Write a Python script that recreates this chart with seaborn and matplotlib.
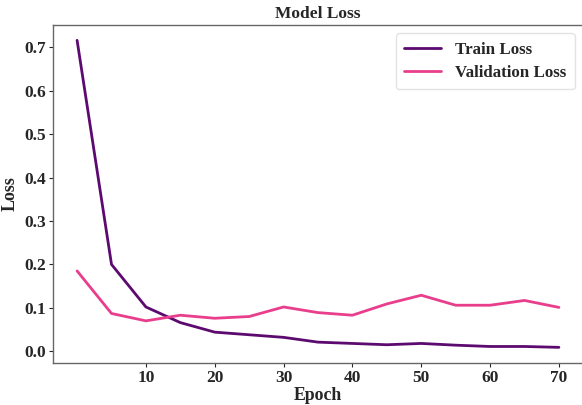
"""Model loss curves: training vs validation loss per epoch."""

import matplotlib

matplotlib.use("Agg")

import matplotlib.pyplot as plt
import pandas as pd
import seaborn as sns

epochs = [0, 5, 10, 15, 20, 25, 30, 35, 40, 45, 50, 55, 60, 65, 70]
train_loss = [0.716, 0.200, 0.102, 0.066, 0.044, 0.038, 0.032, 0.021, 0.018,
              0.015, 0.018, 0.014, 0.011, 0.011, 0.009]
val_loss = [0.185, 0.087, 0.070, 0.083, 0.076, 0.080, 0.102, 0.089, 0.083,
            0.109, 0.129, 0.106, 0.106, 0.117, 0.101]
xticks = [10, 20, 30, 40, 50, 60, 70]

TRAIN_COLOR = "#5c0a6f"
VAL_COLOR = "#e83e8c"

sns.set_theme(style="ticks")
plt.rcParams["font.family"] = ["Liberation Serif", "DejaVu Serif"]
plt.rcParams["font.weight"] = "bold"

frame = pd.DataFrame({
    "Epoch": epochs * 2,
    "Loss": train_loss + val_loss,
    "Series": ["Train Loss"] * len(epochs) + ["Validation Loss"] * len(epochs),
})

fig = plt.figure(figsize=(5.82, 4.05), dpi=100)
ax = fig.add_axes([53 / 582, 42.3 / 405, 530 / 582, 337.7 / 405])
sns.lineplot(
    data=frame, x="Epoch", y="Loss", hue="Series",
    palette=[TRAIN_COLOR, VAL_COLOR], linewidth=2, ax=ax,
)

ax.set_title("Model Loss", fontsize=12.5, fontweight="bold", pad=5)
ax.set_xlabel("Epoch", fontsize=12.8, fontweight="bold", labelpad=1)
ax.set_ylabel("Loss", fontsize=13, fontweight="bold", labelpad=4)
ax.set_xticks(xticks)
ax.tick_params(axis="both", labelsize=12.5, length=3, width=0.8, pad=2)
for lab in ax.get_xticklabels() + ax.get_yticklabels():
    lab.set_fontweight("bold")

for side in ["left", "bottom", "top"]:
    ax.spines[side].set_color("#666666")
    ax.spines[side].set_linewidth(1)
ax.spines["right"].set_visible(False)

leg = ax.legend(loc="upper right", fontsize=12.2, frameon=True,
                handlelength=2.2, borderpad=0.5, labelspacing=0.4)
leg.set_title(None)
leg.get_frame().set_edgecolor("#dddddd")
for text in leg.get_texts():
    text.set_fontweight("bold")

fig.savefig("out.png", dpi=100)
plt.close(fig)
